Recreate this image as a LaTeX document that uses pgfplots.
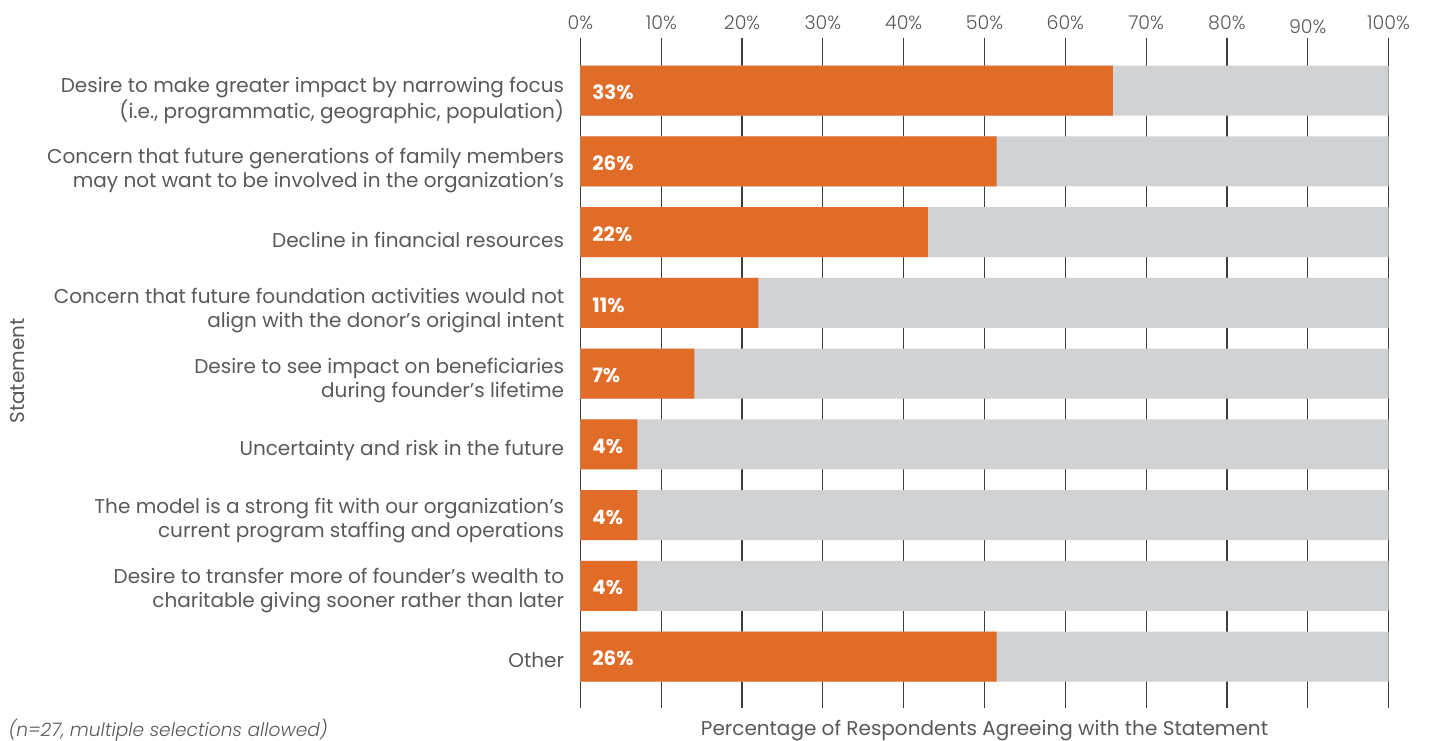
\documentclass[border=0pt]{standalone}
\usepackage{fontspec}
\setmainfont{Poppins}
\newfontfamily\lightfont{Poppins Light}
\usepackage{pgfplots}
\pgfplotsset{compat=1.18}

\definecolor{barorange}{RGB}{224,108,39}
\definecolor{bargray}{RGB}{209,210,212}
\definecolor{txtgray}{RGB}{88,89,91}
\definecolor{gridgray}{RGB}{60,60,60}

% y: position from bottom (8 = first statement), val: drawn bar length, lab: printed share
\pgfplotstableread{
y val lab full zero
8 65.9 33 100 0
7 51.5 26 100 0
6 43.0 22 100 0
5 22.0 11 100 0
4 14.1 7 100 0
3 7.05 4 100 0
2 7.05 4 100 0
1 7.05 4 100 0
0 51.5 26 100 0
}\statdata

\begin{document}
\begin{tikzpicture}
\begin{axis}[
    scale only axis,
    width=404pt, height=335pt,
    xmin=0, xmax=100,
    ymin=-0.725, ymax=8.745,
    axis line style={draw=none},
    tick style={draw=none},
    xmajorgrids,
    major grid style={gridgray, line width=0.6pt},
    xtick={0,10,20,30,40,50,60,70,80,90,100},
    xticklabels={0\%,10\%,20\%,30\%,40\%,50\%,60\%,70\%,80\%,\raisebox{-2pt}{90\%},100\%},
    xticklabel pos=upper,
    xticklabel style={font=\lightfont\fontsize{9.5pt}{11pt}\selectfont, text=txtgray,
        anchor=base, inner sep=0pt, yshift=4.5pt},
    % statement labels sit a little below their bars, as in the source
    ytick={-0.028,0.961,1.950,2.940,3.929,4.919,5.908,6.898,7.887},
    yticklabels={
        {Other},
        {Desire to transfer more of founder’s wealth to\\charitable giving sooner rather than later},
        {The model is a strong fit with our organization’s\\current program staffing and operations},
        {Uncertainty and risk in the future},
        {Desire to see impact on beneficiaries\\during founder’s lifetime},
        {Concern that future foundation activities would not\\align with the donor’s original intent},
        {Decline in financial resources},
        {Concern that future generations of family members\\may not want to be involved in the organization’s},
        {Desire to make greater impact by narrowing focus\\(i.e., programmatic, geographic, population)}
    },
    yticklabel style={font=\fontsize{10pt}{12pt}\selectfont, text=txtgray,
        align=right, anchor=east, inner sep=0pt, xshift=-8pt, yshift=-0.75pt},
]
\addplot[xbar, bar width=25pt, bar shift=0pt, fill=bargray, draw=none]
    table[x=full, y=y] {\statdata};
\addplot[xbar, bar width=25pt, bar shift=0pt, fill=barorange, draw=none]
    table[x=val, y=y] {\statdata};
\addplot[only marks, mark=none, point meta=explicit symbolic,
    nodes near coords={\pgfplotspointmeta\%},
    nodes near coords style={anchor=west, xshift=5.75pt, yshift=-1pt, inner sep=0pt, text=white,
        font=\bfseries\fontsize{9.9pt}{11pt}\selectfont}]
    table[x=zero, y=y, meta=lab] {\statdata};
\end{axis}
\node[rotate=90, text=txtgray, font=\fontsize{10pt}{12pt}\selectfont] at (-281.25pt,168.5pt) {Statement};
\node[text=txtgray, font=\fontsize{10pt}{12pt}\selectfont] at (202pt,-11.5pt)
    {Percentage of Respondents Agreeing with the Statement};
\node[anchor=west, text=txtgray, font=\lightfont\itshape\fontsize{9.3pt}{11pt}\selectfont] at (-289.5pt,-11pt)
    {(n=27, multiple selections allowed)};
\pgfresetboundingbox
\path[use as bounding box] (-290.25pt,-16pt) rectangle (424.25pt,354pt);
\end{tikzpicture}
\end{document}
